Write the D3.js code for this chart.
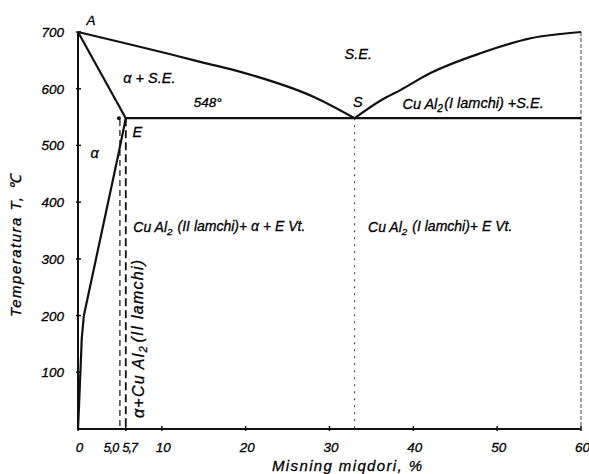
<!DOCTYPE html>
<meta charset="utf-8">
<script src="https://d3js.org/d3.v7.min.js"></script>
<style>
  body { margin: 0; background: #fff; }
  text { font-family: "Liberation Sans", Arial, sans-serif; font-style: italic; fill: #000; stroke: #000; stroke-width: 0.3px; }
</style>
<body>
<div id="my_dataviz"></div>
<script>
// ---- data (composition %, temperature °C) ----
var liquidusLeft = [[0, 700], [12.3, 656], [14.7, 647], [19.8, 628], [28.2, 585], [33, 548]];
var liquidusRight = [[33, 548], [36.2, 580], [38.5, 598], [42.1, 628], [48.1, 663], [54, 689], [60, 700]];
var solidusLeft = [[0, 700], [5.7, 548]];
var solvus = [[5.7, 548], [4.8, 483], [0.7, 200], [0.45, 160], [0.12, 40], [0, 0]];
var eutecticLine = [[5.7, 548], [60, 548]];
var xTicks = [0, 10, 20, 30, 40, 50, 60];
var xExtraTicks = [5.0, 5.7];
var xExtraLabels = ["5,0", "5,7"];
var yTicks = [100, 200, 300, 400, 500, 600, 700];

var width = 589, height = 474;
var svg = d3.select("#my_dataviz").append("svg")
  .attr("width", width).attr("height", height);

var x = d3.scaleLinear().domain([0, 60]).range([78, 581]);
var y = d3.scaleLinear().domain([0, 700]).range([429, 32]);

var line = d3.line().x(d => x(d[0])).y(d => y(d[1]));

// text with simple _2 subscripts
function richText(sel, str) {
  var parts = str.split(/(_\d)/);
  parts.forEach(function (p) {
    if (!p) return;
    if (p[0] === "_") {
      sel.append("tspan").attr("font-size", "0.7em").attr("dy", "0.25em").text(p.slice(1));
      sel.append("tspan").attr("dy", "-0.25em").text("\u200a");
    } else {
      sel.append("tspan").text(p);
    }
  });
}

// x axis
svg.append("line")
  .attr("x1", x(0)).attr("x2", x(60)).attr("y1", y(0)).attr("y2", y(0))
  .attr("stroke", "#111").attr("stroke-width", 2);
svg.selectAll(".xt").data(xTicks.concat([5.7])).enter().append("line")
  .attr("x1", d => x(d)).attr("x2", d => x(d))
  .attr("y1", y(0) - 3).attr("y2", y(0) + 2)
  .attr("stroke", "#111").attr("stroke-width", 1.5);
svg.selectAll(".xl").data(xTicks).enter().append("text")
  .attr("x", d => x(d) + 1.5).attr("y", 452)
  .attr("text-anchor", "middle").attr("font-size", 13.5)
  .text(d => d);
svg.selectAll(".xe").data(xExtraTicks).enter().append("text")
  .attr("x", (d, i) => x(d) + (i === 0 ? -9 : 4)).attr("y", 452)
  .attr("text-anchor", "middle").attr("font-size", 12.5)
  .attr("letter-spacing", -1)
  .text((d, i) => xExtraLabels[i]);

// y axis
svg.append("line")
  .attr("x1", x(0)).attr("x2", x(0)).attr("y1", y(0)).attr("y2", y(700))
  .attr("stroke", "#111").attr("stroke-width", 2);
svg.selectAll(".yt").data(yTicks).enter().append("line")
  .attr("x1", x(0) - 2).attr("x2", x(0) + 3)
  .attr("y1", d => y(d)).attr("y2", d => y(d))
  .attr("stroke", "#111").attr("stroke-width", 1.5);
svg.selectAll(".yl").data(yTicks).enter().append("text")
  .attr("x", 64).attr("y", d => y(d) + 5)
  .attr("text-anchor", "end").attr("font-size", 13.5)
  .text(d => d);

// axis titles
svg.append("text")
  .attr("x", 272).attr("y", 471)
  .attr("font-size", 15)
  .attr("textLength", 150).attr("lengthAdjust", "spacing")
  .text("Misning miqdori, %");
svg.append("text")
  .attr("transform", "translate(21,317) rotate(-90)")
  .attr("font-size", 15)
  .attr("textLength", 142).attr("lengthAdjust", "spacing")
  .text("Temperatura T, \u2103");

// right border at 60 %
svg.append("line")
  .attr("x1", x(60)).attr("x2", x(60)).attr("y1", y(700)).attr("y2", y(0))
  .attr("stroke", "#444").attr("stroke-width", 1).attr("stroke-dasharray", "4,2");

// vertical guide lines
svg.append("line")
  .attr("x1", x(33)).attr("x2", x(33)).attr("y1", y(548)).attr("y2", y(0))
  .attr("stroke", "#333").attr("stroke-width", 1).attr("stroke-dasharray", "2,5");
svg.append("line")
  .attr("x1", x(5.0)).attr("x2", x(5.0)).attr("y1", y(545)).attr("y2", y(0))
  .attr("stroke", "#111").attr("stroke-width", 1.2).attr("stroke-dasharray", "6,4");
svg.append("circle")
  .attr("cx", x(5.0) - 1).attr("cy", y(548)).attr("r", 2).attr("fill", "#111");
svg.append("line")
  .attr("x1", x(5.7)).attr("x2", x(5.7)).attr("y1", y(548)).attr("y2", y(0))
  .attr("stroke", "#111").attr("stroke-width", 1.8).attr("stroke-dasharray", "8,4");

// phase boundaries
[[liquidusLeft, d3.curveMonotoneX], [liquidusRight, d3.curveMonotoneX],
 [solidusLeft, d3.curveLinear], [solvus, d3.curveLinear], [eutecticLine, d3.curveLinear]
].forEach(function (s) {
  svg.append("path")
    .datum(s[0])
    .attr("d", line.curve(s[1]))
    .attr("fill", "none").attr("stroke", "#111").attr("stroke-width", 2.2)
    .attr("stroke-linejoin", "round");
});

// labels [x %, T °C, text, size]
var labels = [
  [1.0, 712, "A", 13.5],
  [5.4, 610, "\u03b1 + S.E.", 14.5],
  [31.8, 652, "S.E.", 14.5],
  [13.8, 567, "548\u00b0", 13.5],
  [32.8, 568, "S", 14.5],
  [6.5, 515, "E", 14.5],
  [1.5, 478, "\u03b1", 14.5],
  [38.7, 564, "Cu Al_2(I lamchi) +S.E.", 14.5],
  [6.6, 347, "Cu Al_2 (II lamchi)+ \u03b1 + E Vt.", 14],
  [34.6, 347, "Cu Al_2 (I lamchi)+ E Vt.", 14]
];
labels.forEach(function (l) {
  var t = svg.append("text")
    .attr("x", x(l[0])).attr("y", y(l[1]))
    .attr("font-size", l[3]);
  richText(t, l[2]);
});

// rotated label between the dashed lines
var rt = svg.append("text")
  .attr("transform", "translate(" + (x(5.7) + 18) + "," + 418 + ") rotate(-90)")
  .attr("font-size", 16)
  .attr("textLength", 158).attr("lengthAdjust", "spacing");
richText(rt, "\u03b1+Cu Al_2(II lamchi)");
</script>
</body>
